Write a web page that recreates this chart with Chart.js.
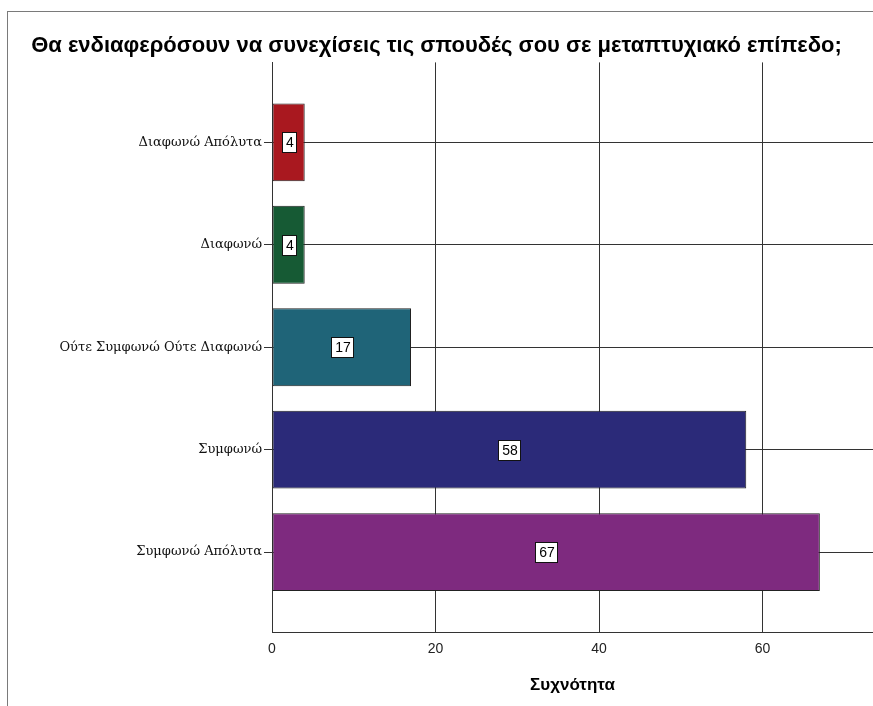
<!DOCTYPE html>
<html>
<head>
    <meta charset="utf-8">
    <title>Μεταπτυχιακό επίπεδο</title>
    <script src="https://cdn.jsdelivr.net/npm/chart.js"></script>
    <style>
        html, body {
            margin: 0;
            padding: 0;
            background: #fff;
            overflow: hidden;
        }
        .wrap {
            position: relative;
            width: 873px;
            height: 706px;
        }
        .frame {
            position: absolute;
            left: 7px;
            top: 11px;
            width: 900px;
            height: 720px;
            border-left: 1px solid #7a7a7a;
            border-top: 1px solid #7a7a7a;
        }
        canvas {
            position: absolute;
            left: 0;
            top: 0;
        }
    </style>
</head>
<body>
<div class="wrap">
    <div class="frame"></div>
    <canvas id="chart" width="873" height="706"></canvas>
</div>

<script>
    // Δεδομένα
    const categories = ['Διαφωνώ Απόλυτα', 'Διαφωνώ', 'Ούτε Συμφωνώ Ούτε Διαφωνώ', 'Συμφωνώ', 'Συμφωνώ Απόλυτα'];
    const counts = [4, 4, 17, 58, 67];
    const xTicks = [0, 20, 40, 60];
    const barColors = ['#a9181f', '#165a34', '#1f6478', '#2b2a79', '#7e2a7f'];

    const serif = "'DejaVu Serif', 'Liberation Serif', serif";
    const sans = "'Liberation Sans', Arial, sans-serif";

    // ετικέτες τιμών σε λευκό κουτί
    const valueBoxes = {
        id: 'valueBoxes',
        afterDatasetsDraw(chart) {
            const ctx = chart.ctx;
            const meta = chart.getDatasetMeta(0);
            ctx.save();
            ctx.font = '14px ' + sans;
            ctx.textAlign = 'center';
            ctx.textBaseline = 'middle';
            meta.data.forEach((bar, i) => {
                const txt = String(counts[i]);
                const cx = Math.round((bar.base + bar.x) / 2);
                const cy = Math.round(bar.y);
                const w = Math.ceil(ctx.measureText(txt).width) + 6;
                const h = 20;
                const x0 = Math.round(cx - w / 2), y0 = Math.round(cy - h / 2);
                ctx.fillStyle = '#fff';
                ctx.fillRect(x0, y0, w, h);
                ctx.strokeStyle = '#111';
                ctx.lineWidth = 1;
                ctx.strokeRect(x0 + 0.5, y0 + 0.5, w, h);
                ctx.fillStyle = '#000';
                ctx.fillText(txt, cx + 1, cy + 1);
            });
            ctx.restore();
        }
    };

    new Chart(document.getElementById('chart'), {
        type: 'bar',
        data: {
            datasets: [{
                data: categories.map((c, i) => ({ x: counts[i], y: i + 1 })),
                backgroundColor: barColors,
                borderColor: '#222',
                borderWidth: 1,
                borderSkipped: false,
                categoryPercentage: 1,
                barPercentage: 0.76
            }]
        },
        options: {
            indexAxis: 'y',
            responsive: false,
            animation: false,
            layout: { padding: 0 },
            plugins: {
                legend: { display: false },
                tooltip: { enabled: false },
                title: {
                    display: true,
                    text: 'Θα ενδιαφερόσουν να συνεχίσεις τις σπουδές σου σε μεταπτυχιακό επίπεδο;',
                    color: '#000',
                    font: { family: sans, size: 22, weight: 'bold' },
                    padding: { top: 33, bottom: 3 }
                }
            },
            scales: {
                x: {
                    type: 'linear',
                    position: 'bottom',
                    min: 0,
                    max: 73.5,
                    afterBuildTicks: s => { s.ticks = xTicks.map(v => ({ value: v })); },
                    afterFit: s => { s.height = 74; },
                    grid: { color: '#333', lineWidth: 1, drawTicks: false },
                    border: { display: true, color: '#333' },
                    ticks: {
                        color: '#222',
                        padding: 9,
                        font: { family: sans, size: 14 }
                    },
                    title: {
                        display: true,
                        text: 'Συχνότητα',
                        color: '#000',
                        font: { family: sans, size: 17, weight: 'bold' },
                        padding: { top: 4, bottom: 10 }
                    }
                },
                y: {
                    type: 'linear',
                    reverse: true,
                    offset: false,
                    min: 0.22,
                    max: 5.78,
                    afterBuildTicks: s => { s.ticks = categories.map((c, i) => ({ value: i + 1 })); },
                    afterFit: s => { s.width = 272; },
                    grid: { color: '#333', lineWidth: 1, tickLength: 8, offset: false },
                    border: { display: true, color: '#333' },
                    ticks: {
                        color: '#111',
                        padding: 2,
                        font: { family: serif, size: 13 },
                        callback: v => categories[v - 1]
                    }
                }
            }
        },
        plugins: [valueBoxes]
    });
</script>
</body>
</html>
